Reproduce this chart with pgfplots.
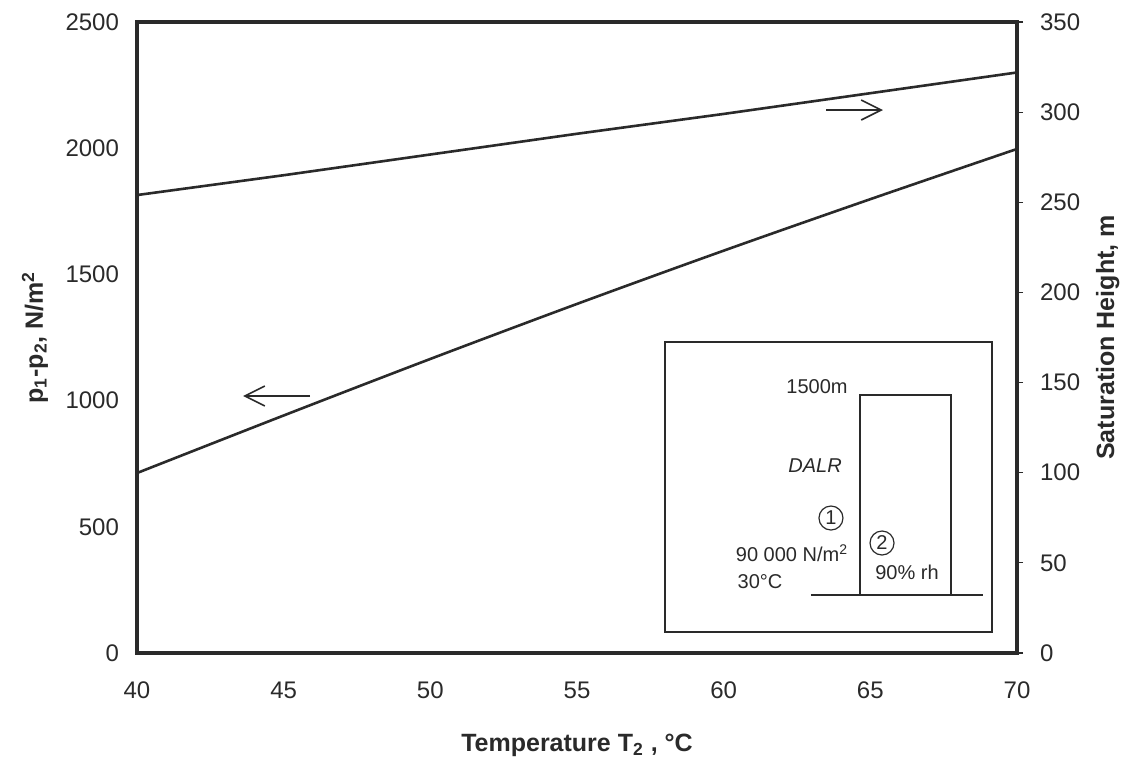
\documentclass[border=0pt]{standalone}
\usepackage{fontspec}
\setmainfont{Liberation Sans}
\usepackage{pgfplots}
\usepackage{pgfplotstable}
\pgfplotsset{compat=1.18}
\usetikzlibrary{arrows.meta}
\definecolor{ink}{HTML}{2A2A2A}

\pgfplotstableread{
T    dp
40   713
45   941
50   1165
55   1383
60   1594
65   1798
70   1997
}\pressure

\pgfplotstableread{
T    h
40   254
45   265
50   276.5
55   288
60   299
65   310.5
70   322
}\height

\begin{document}
\begin{tikzpicture}
\useasboundingbox (-68.5pt,-52.5pt) rectangle (495.5pt,326.5pt);
\begin{axis}[
  at={(0pt,0pt)}, anchor=south west,
  scale only axis, width=440pt, height=315.5pt,
  xmin=40, xmax=70, ymin=0, ymax=2500,
  xtick={40,45,...,70}, ytick={0,500,...,2500},
  major tick length=0pt,
  axis line style={line width=1.8pt, ink},
  ticklabel style={font=\fontsize{12}{14}\selectfont, text=ink},
  /pgf/number format/assume math mode=true,
  /pgf/number format/set thousands separator={},
  xticklabel style={yshift=-11pt},
  yticklabel style={xshift=-5.5pt},
  xlabel={\bfseries Temperature T\textsubscript{2} , °C},
  ylabel={\bfseries p\textsubscript{1}-p\textsubscript{2}, N/m\textsuperscript{2}},
  label style={font=\fontsize{12.5}{14}\selectfont, text=ink},
  xlabel style={at={(axis description cs:0.5,-0.146)}, anchor=center},
  ylabel style={at={(axis description cs:-0.116,0.5)}, anchor=center},
]
\addplot[ink, line width=1.3pt, smooth] table[x=T, y=dp] {\pressure};

% left-pointing arrow
\draw[ink, line width=0.8pt, -{Straight Barb[length=10pt,width=10pt]}]
  (rel axis cs:0.1966,0.4073) -- (rel axis cs:0.1205,0.4073);
% right-pointing arrow
\draw[ink, line width=0.8pt, -{Straight Barb[length=10pt,width=10pt]}]
  (rel axis cs:0.783,0.8605) -- (rel axis cs:0.8477,0.8605);

% inset sketch
\draw[ink, line width=0.9pt, fill=white] (rel axis cs:0.6,0.0333) rectangle (rel axis cs:0.9716,0.4929);
\draw[ink, line width=0.7pt] (rel axis cs:0.8216,0.0919) |- (rel axis cs:0.925,0.4089) -- (rel axis cs:0.925,0.0919);
\draw[ink, line width=0.8pt] (rel axis cs:0.7659,0.0919) -- (rel axis cs:0.9614,0.0919);
\begin{scope}[every node/.style={font=\fontsize{10}{12}\selectfont, text=ink}]
\node at (rel axis cs:0.7727,0.4216) {1500m};
\node at (rel axis cs:0.7705,0.2964) {\itshape DALR};
\node[draw=ink, circle, line width=0.6pt, minimum size=12pt, inner sep=0pt] at (rel axis cs:0.7886,0.2139) {1};
\node at (rel axis cs:0.7443,0.1585) {90 000 N/m\textsuperscript{2}};
\node[draw=ink, circle, line width=0.6pt, minimum size=12pt, inner sep=0pt] at (rel axis cs:0.8466,0.1743) {2};
\node at (rel axis cs:0.875,0.1284) {90\% rh};
\node at (rel axis cs:0.708,0.1125) {30°C};
\end{scope}
\end{axis}

\begin{axis}[
  at={(0pt,0pt)}, anchor=south west,
  scale only axis, width=440pt, height=315.5pt,
  xmin=40, xmax=70, ymin=0, ymax=350,
  axis x line=none, axis y line*=right,
  ytick={0,50,...,350},
  tick align=outside, major tick length=3pt,
  tick style={ink, line width=0.6pt},
  axis line style={line width=1.8pt, ink},
  ticklabel style={font=\fontsize{12}{14}\selectfont, text=ink},
  /pgf/number format/assume math mode=true,
  yticklabel style={xshift=5pt},
  ylabel={\bfseries Saturation Height, m},
  label style={font=\fontsize{12.5}{14}\selectfont, text=ink},
  ylabel style={at={(axis description cs:1.103,0.5)}, anchor=center},
]
\addplot[ink, line width=1.3pt] table[x=T, y=h] {\height};
\end{axis}
\end{tikzpicture}
\end{document}
